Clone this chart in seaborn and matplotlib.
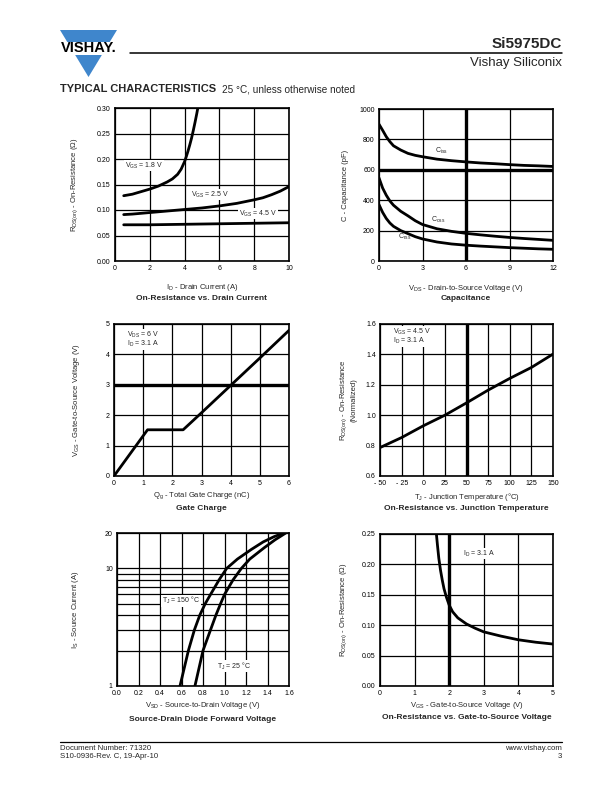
import numpy as np
import matplotlib
matplotlib.use("Agg")
import matplotlib.pyplot as plt
from matplotlib.patches import Polygon
from matplotlib.ticker import FixedLocator, NullFormatter
import seaborn as sns

# On-Resistance vs. Drain Current
id_18 = [0.5, 1.0, 1.5, 2.0, 2.5, 3.0, 3.3, 3.6, 3.8, 4.0, 4.1, 4.2, 4.3, 4.4, 4.5, 4.6, 4.7, 4.76]
r_18 = [0.128, 0.131, 0.136, 0.141, 0.147, 0.155, 0.161, 0.170, 0.180, 0.195, 0.205, 0.216,
        0.228, 0.241, 0.256, 0.272, 0.289, 0.300]
id_25 = [0.5, 1, 2, 3, 4, 5, 6, 7, 8, 8.5, 9, 9.5, 10]
r_25 = [0.091, 0.092, 0.095, 0.098, 0.101, 0.104, 0.108, 0.113, 0.120, 0.124, 0.130, 0.137, 0.146]
id_45 = [0.5, 2, 4, 6, 8, 10]
r_45 = [0.071, 0.071, 0.072, 0.073, 0.074, 0.075]

# Capacitance
v_ds = [0, 0.25, 0.5, 0.75, 1, 1.5, 2, 2.5, 3, 4, 5, 6, 7, 8, 9, 10, 11, 12]
c_iss = [900, 860, 818, 785, 758, 730, 708, 695, 686, 670, 660, 652, 645, 640, 634, 629, 626, 622]
c_oss = [547, 480, 433, 395, 367, 327, 297, 265, 240, 212, 195, 182, 172, 163, 155, 148, 142, 136]
c_rss = [371, 320, 280, 250, 228, 200, 180, 160, 145, 125, 112, 104, 98, 93, 88, 84, 80, 77]

# Gate Charge
qg = [0, 1.15, 2.37, 3, 4, 5, 6]
vgs_q = [0, 1.52, 1.52, 2.08, 2.98, 3.88, 4.79]

# On-Resistance vs. Junction Temperature
tj = [-50, -25, 0, 25, 50, 75, 100, 125, 150]
r_norm = [0.787, 0.853, 0.930, 1.000, 1.081, 1.165, 1.242, 1.314, 1.402]

# Source-Drain Diode Forward Voltage
vsd_150 = [0.586, 0.664, 0.72, 0.77, 0.82, 0.87, 0.95, 1.02, 1.12, 1.25, 1.36, 1.46, 1.55]
is_150 = [1, 2, 3, 4, 5, 6, 8, 10, 12, 14.5, 16.8, 18.6, 20]
vsd_25 = [0.725, 0.80, 0.87, 0.92, 0.963, 1.0, 1.08, 1.157, 1.235, 1.37, 1.47, 1.57]
is_25 = [1, 2, 3, 4, 5, 6, 8, 10, 12, 15, 17.5, 20]

# On-Resistance vs. Gate-to-Source Voltage
vgs = [1.63, 1.66, 1.70, 1.75, 1.80, 1.85, 1.92, 2.0, 2.1, 2.25, 2.5, 2.75, 3.0, 3.5, 4.0, 4.5, 5.0]
r_vgs = [0.25, 0.232, 0.21, 0.19, 0.174, 0.16, 0.146, 0.133, 0.122, 0.112, 0.102, 0.095, 0.089,
         0.082, 0.076, 0.072, 0.069]

sns.set_theme(style="white")
plt.rcParams['font.family'] = ['Liberation Sans', 'DejaVu Sans']
plt.rcParams['mathtext.fontset'] = 'custom'
plt.rcParams['mathtext.rm'] = 'Liberation Sans'
plt.rcParams['mathtext.it'] = 'Liberation Sans'

W, H = 612, 792
fig = plt.figure(figsize=(6.12, 7.92), dpi=100)


def make_ax(x0, y0, x1, y1):
    return fig.add_axes([x0 / W, 1 - y1 / H, (x1 - x0) / W, (y1 - y0) / H])


def style(ax, xlabel, ylabel, title, xl, tl, yl):
    ax.grid(True, color='black', lw=0.9)
    ax.set_axisbelow(True)
    for s in ax.spines.values():
        s.set_color('black')
        s.set_linewidth(1.2)
    ax.tick_params(length=0, pad=3, labelsize=5, colors='black')
    ax.set_xlabel('')
    ax.set_ylabel('')
    ax.text(0.5, xl, xlabel, transform=ax.transAxes, ha='center', va='center', fontsize=5.5)
    ax.text(0.5, tl, title, transform=ax.transAxes, ha='center', va='center', fontsize=6,
            fontweight='bold')
    ax.text(yl, 0.5, ylabel, transform=ax.transAxes, ha='center', va='center', fontsize=5.5,
            rotation=90)


def curve(ax, x, y):
    sns.lineplot(x=x, y=y, ax=ax, color='black', lw=2.0, estimator=None, sort=False)


box = dict(facecolor='white', edgecolor='none', pad=0.5)

# 1 - On-Resistance vs Drain Current
ax1 = make_ax(115, 108, 289, 261)
curve(ax1, id_18, r_18)
curve(ax1, id_25, r_25)
curve(ax1, id_45, r_45)
ax1.set_xlim(0, 10)
ax1.set_ylim(0, 0.30)
ax1.set_xticks([0, 2, 4, 6, 8, 10])
ax1.set_yticks([0, 0.05, 0.10, 0.15, 0.20, 0.25, 0.30])
ax1.set_yticklabels(['0.00', '0.05', '0.10', '0.15', '0.20', '0.25', '0.30'])
ax1.text(0.55, 0.187, r'V$_\mathrm{GS}$ = 1.8 V', fontsize=5, bbox=box, va='center')
ax1.text(4.35, 0.130, r'V$_\mathrm{GS}$ = 2.5 V', fontsize=5, bbox=box, va='center')
ax1.text(7.1, 0.093, r'V$_\mathrm{GS}$ = 4.5 V', fontsize=5, bbox=box, va='center')
style(ax1, r'I$_\mathrm{D}$ - Drain Current (A)',
      r'R$_\mathrm{DS(on)}$ - On-Resistance ($\Omega$)',
      'On-Resistance vs. Drain Current', -0.176, -0.246, -0.23)

# 2 - Capacitance
ax2 = make_ax(379, 109, 553, 261)
curve(ax2, v_ds, c_iss)
curve(ax2, v_ds, c_oss)
curve(ax2, v_ds, c_rss)
ax2.set_xlim(0, 12)
ax2.set_ylim(0, 1000)
ax2.set_xticks([0, 3, 6, 9, 12])
ax2.set_yticks([0, 200, 400, 600, 800, 1000])
ax2.axhline(600, color='black', lw=2.4, zorder=0.5)
ax2.axvline(6, color='black', lw=2.4, zorder=0.5)
ax2.text(3.85, 725, r'C$_\mathrm{iss}$', fontsize=5, va='center')
ax2.text(3.6, 270, r'C$_\mathrm{oss}$', fontsize=5, va='center')
ax2.text(1.3, 158, r'C$_\mathrm{rss}$', fontsize=5, va='center')
style(ax2, r'V$_\mathrm{DS}$ - Drain-to-Source Voltage (V)', 'C - Capacitance (pF)',
      'Capacitance', -0.178, -0.25, -0.195)

# 3 - Gate Charge
ax3 = make_ax(114, 324, 289, 476)
curve(ax3, qg, vgs_q)
ax3.set_xlim(0, 6)
ax3.set_ylim(0, 5)
ax3.set_xticks(range(7))
ax3.set_yticks(range(6))
ax3.axhline(3, color='black', lw=2.4, zorder=0.5)
ax3.text(0.45, 4.5, 'V$_\\mathrm{DS}$ = 6 V\nI$_\\mathrm{D}$ = 3.1 A', fontsize=5, bbox=box,
         va='center', linespacing=0.9)
style(ax3, r'Q$_\mathrm{g}$ - Total Gate Charge (nC)',
      r'V$_\mathrm{GS}$ - Gate-to-Source Voltage (V)',
      'Gate Charge', -0.13, -0.217, -0.217)

# 4 - On-Resistance vs Junction Temperature
ax4 = make_ax(380, 324, 553, 476)
curve(ax4, tj, r_norm)
ax4.set_xlim(-50, 150)
ax4.set_ylim(0.6, 1.6)
ax4.set_xticks(tj)
ax4.set_xticklabels(['- 50', '- 25', '0', '25', '50', '75', '100', '125', '150'])
ax4.set_yticks([0.6, 0.8, 1.0, 1.2, 1.4, 1.6])
ax4.axvline(50, color='black', lw=2.4, zorder=0.5)
ax4.text(-35, 1.52, 'V$_\\mathrm{GS}$ = 4.5 V\nI$_\\mathrm{D}$ = 3.1 A', fontsize=5, bbox=box,
         va='center', linespacing=0.9)
style(ax4, r'T$_\mathrm{J}$ - Junction Temperature ($\degree$C)',
      'R$_\\mathrm{DS(on)}$ - On-Resistance\n(Normalized)',
      'On-Resistance vs. Junction Temperature', -0.138, -0.217, -0.185)

# 5 - Source-Drain Diode Forward Voltage
ax5 = make_ax(117, 533, 289, 686)
curve(ax5, vsd_150, is_150)
curve(ax5, vsd_25, is_25)
ax5.set_yscale('log')
ax5.set_xlim(0, 1.6)
ax5.set_ylim(1, 20)
ax5.set_xticks([0, 0.2, 0.4, 0.6, 0.8, 1.0, 1.2, 1.4, 1.6])
ax5.set_xticklabels(['0.0', '0.2', '0.4', '0.6', '0.8', '1.0', '1.2', '1.4', '1.6'])
ax5.set_yticks([1, 10, 20])
ax5.set_yticklabels(['1', '10', '20'])
ax5.yaxis.set_minor_locator(FixedLocator([2, 3, 4, 5, 6, 7, 8, 9]))
ax5.yaxis.set_minor_formatter(NullFormatter())
ax5.grid(True, which='minor', axis='y', color='black', lw=0.9)
ax5.tick_params(which='minor', length=0)
ax5.text(0.42, 5.3, r'T$_\mathrm{J}$ = 150 $\degree$C', fontsize=5, bbox=box, va='center')
ax5.text(0.93, 1.48, r'T$_\mathrm{J}$ = 25 $\degree$C', fontsize=5, bbox=box, va='center')
style(ax5, r'V$_\mathrm{SD}$ - Source-to-Drain Voltage (V)', r'I$_\mathrm{S}$ - Source Current (A)',
      'Source-Drain Diode Forward Voltage', -0.13, -0.216, -0.244)

# 6 - On-Resistance vs Gate-to-Source Voltage
ax6 = make_ax(380, 534, 553, 686)
curve(ax6, vgs, r_vgs)
ax6.set_xlim(0, 5)
ax6.set_ylim(0, 0.25)
ax6.set_xticks(range(6))
ax6.set_yticks([0, 0.05, 0.10, 0.15, 0.20, 0.25])
ax6.set_yticklabels(['0.00', '0.05', '0.10', '0.15', '0.20', '0.25'])
ax6.axvline(2, color='black', lw=2.4, zorder=0.5)
ax6.text(2.4, 0.218, r'I$_\mathrm{D}$ = 3.1 A', fontsize=5, bbox=box, va='center')
style(ax6, r'V$_\mathrm{GS}$ - Gate-to-Source Voltage (V)',
      r'R$_\mathrm{DS(on)}$ - On-Resistance ($\Omega$)',
      'On-Resistance vs. Gate-to-Source Voltage', -0.13, -0.205, -0.213)

# header: logo, rule, titles
blue = '#3f86cc'
fig.patches.append(Polygon([(60 / W, 1 - 30 / H), (117 / W, 1 - 30 / H), (88.5 / W, 1 - 77 / H)],
                           closed=True, transform=fig.transFigure, facecolor=blue,
                           edgecolor='none'))
fig.patches.append(Polygon([(55 / W, 1 - 42 / H), (122 / W, 1 - 42 / H), (122 / W, 1 - 55 / H),
                            (55 / W, 1 - 55 / H)], closed=True, transform=fig.transFigure,
                           facecolor='white', edgecolor='none'))
fig.text(88.5 / W, 1 - 48.5 / H, 'VISHAY.', ha='center', va='center', fontsize=10.5,
         fontweight='bold', color='black')
fig.add_artist(plt.Line2D([130 / W, 562 / W], [1 - 53 / H, 1 - 53 / H], color='black', lw=1.1))
fig.text(562 / W, 1 - 44 / H, 'Si5975DC', ha='right', va='center', fontsize=11, fontweight='bold')
fig.text(562 / W, 1 - 63 / H, 'Vishay Siliconix', ha='right', va='center', fontsize=9.5)
fig.text(60 / W, 1 - 89 / H, 'TYPICAL CHARACTERISTICS', ha='left', va='center', fontsize=8,
         fontweight='bold')
fig.text(222 / W, 1 - 89 / H, '25 °C, unless otherwise noted', ha='left', va='center',
         fontsize=7.2)

# footer
fig.add_artist(plt.Line2D([60 / W, 562 / W], [1 - 742 / H, 1 - 742 / H], color='black', lw=0.9))
fig.text(60 / W, 1 - 748 / H, 'Document Number: 71320', ha='left', va='center', fontsize=5.6)
fig.text(60 / W, 1 - 757 / H, 'S10-0936-Rev. C, 19-Apr-10', ha='left', va='center', fontsize=5.6)
fig.text(562 / W, 1 - 748 / H, 'www.vishay.com', ha='right', va='center', fontsize=5.6)
fig.text(562 / W, 1 - 757 / H, '3', ha='right', va='center', fontsize=5.6)

fig.savefig('out.png', dpi=100)
